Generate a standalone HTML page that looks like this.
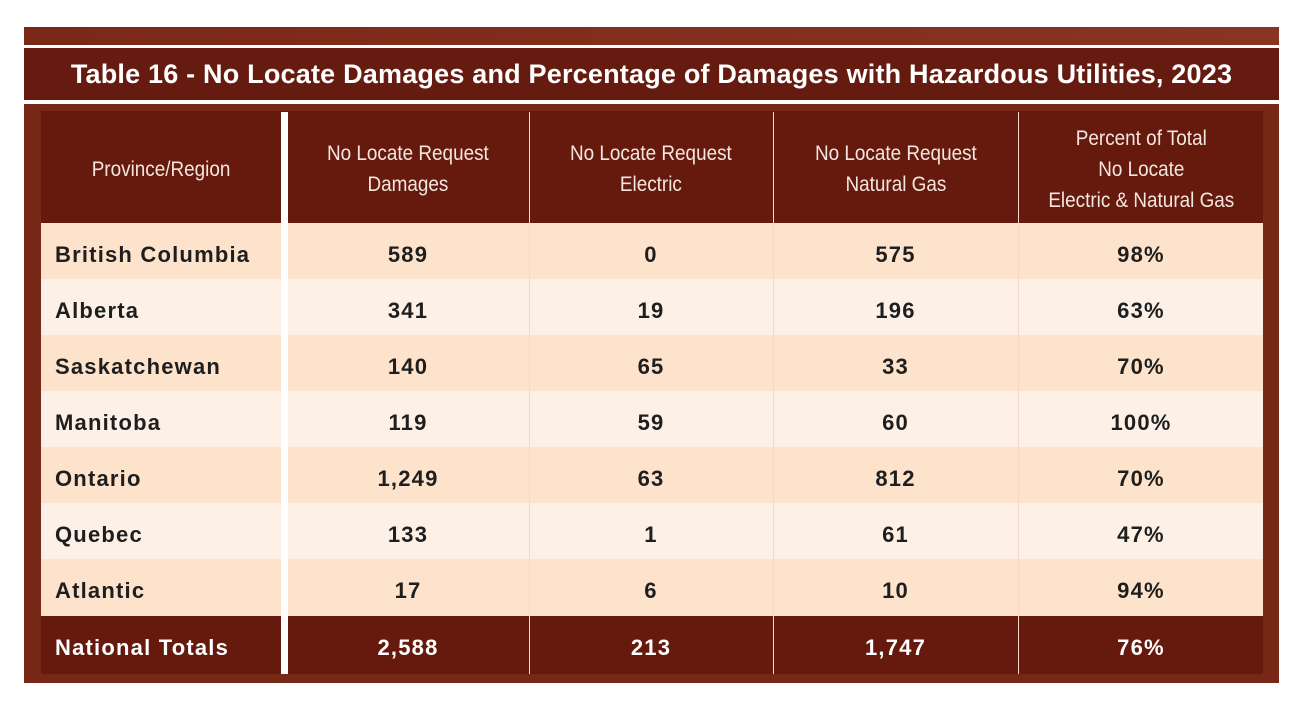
<!DOCTYPE html>
<html><head><style>
body{margin:0;width:1303px;height:704px;background:#fff;position:relative;font-family:"Liberation Sans",sans-serif;overflow:hidden}
.a{position:absolute}
.t{position:absolute;display:flex;align-items:center;justify-content:center;text-align:center}
.hd{color:#f3e6df;font-size:21px;line-height:31px;transform:scaleX(0.9)}
.c{font-weight:bold;font-size:22px;letter-spacing:1.2px;color:#1e1e1e}
</style></head><body>
<div class="a" style="left:24px;top:27px;width:1255px;height:18px;background:linear-gradient(90deg,#7a2818,#8a3422)"></div>
<div class="a" style="left:24px;top:48px;width:1255px;height:52px;background:#661b10"></div>
<div class="t" style="left:24px;top:48px;width:1255px;height:52px;color:#fff;font-weight:bold;font-size:27px;letter-spacing:0.2px">Table 16 - No Locate Damages and Percentage of Damages with Hazardous Utilities, 2023</div>
<div class="a" style="left:24px;top:104px;width:1255px;height:579px;background:#782816"></div>
<div class="a" style="left:41px;top:111px;width:1222px;height:563px;background:#661a0e"></div>
<div id="g"></div>
<script>
const cols=[[41,240],[288,240],[530,242],[774,243],[1019,244]];
const hdr=["Province/Region","No Locate Request<br>Damages","No Locate Request<br>Electric","No Locate Request<br>Natural Gas","Percent of Total<br>No Locate<br>Electric &amp; Natural Gas"];
const rows=[["British Columbia","589","0","575","98%"],["Alberta","341","19","196","63%"],["Saskatchewan","140","65","33","70%"],["Manitoba","119","59","60","100%"],["Ontario","1,249","63","812","70%"],["Quebec","133","1","61","47%"],["Atlantic","17","6","10","94%"]];
let h="";
cols.forEach((c,i)=>{h+=`<div class="t" style="left:${c[0]}px;top:114px;width:${c[1]}px;height:110px"><div class="hd">${hdr[i]}</div></div>`});
rows.forEach((r,j)=>{const y=223+j*56;const bg=j%2?"#fdf1e7":"#fde3cc";
h+=`<div class="a" style="left:41px;top:${y}px;width:1222px;height:57px;background:${bg}"></div>`;
r.forEach((v,i)=>{const c=cols[i];h+=`<div class="t c" style="left:${c[0]+(i?0:14)}px;top:${y+4}px;width:${c[1]}px;height:56px;${i?'':'justify-content:flex-start'}">${v}</div>`});});
const tot=["National Totals","2,588","213","1,747","76%"];
tot.forEach((v,i)=>{const c=cols[i];h+=`<div class="t c" style="color:#fff;left:${c[0]+(i?0:14)}px;top:619px;width:${c[1]}px;height:58px;${i?'':'justify-content:flex-start'}">${v}</div>`});
h+=`<div class="a" style="left:281px;top:112px;width:7px;height:562px;background:#fff"></div>`;
[529,773,1018].forEach(x=>{h+=`<div class="a" style="left:${x}px;top:112px;width:1px;height:562px;background:#f2d9cc"></div>`});
document.getElementById("g").innerHTML=h;
</script>
</body></html>
